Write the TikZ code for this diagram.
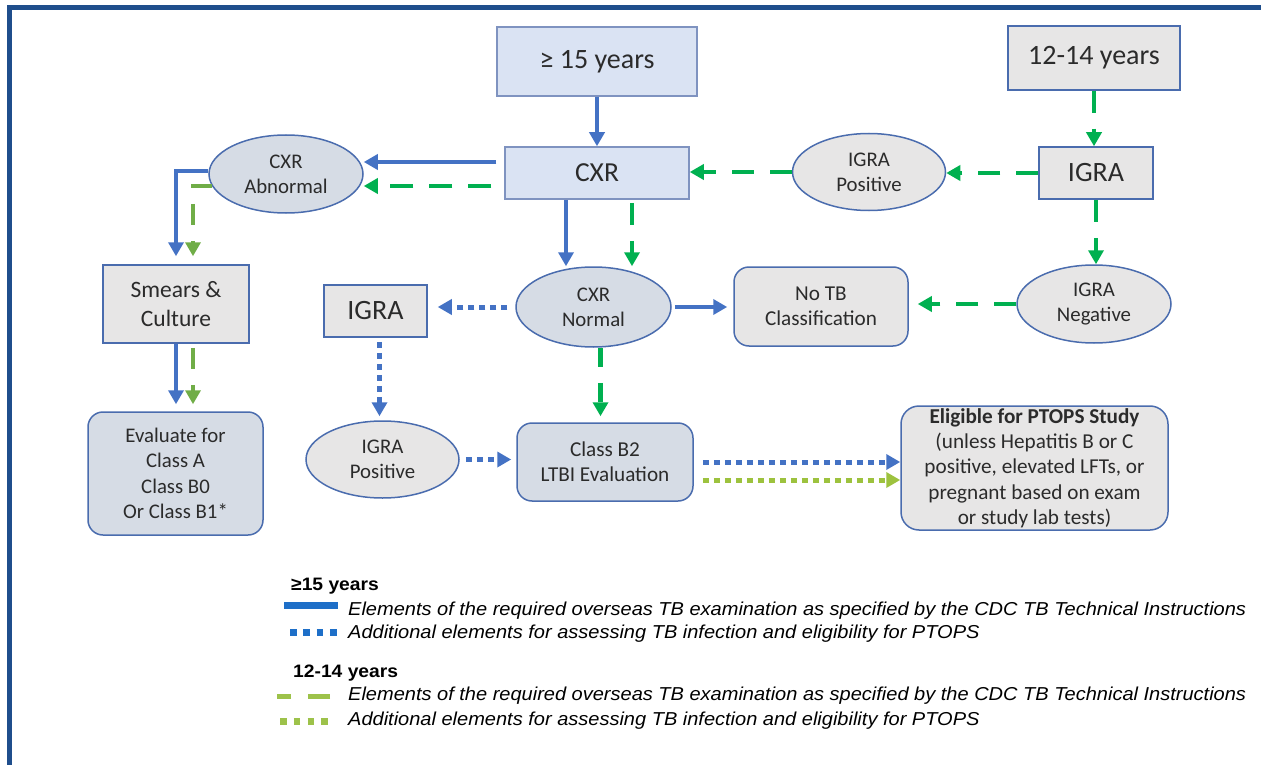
\documentclass[tikz,border=0pt]{standalone}
\usepackage{fontspec}
\setmainfont{Carlito}
\newfontfamily\legendfont[FakeStretch=1.07]{Liberation Sans}
\usetikzlibrary{shapes.geometric,arrows.meta}

\definecolor{frameblue}{HTML}{1F4E8C}
\definecolor{arrowblue}{HTML}{4472C4}
\definecolor{arrowgreen}{HTML}{00B050}
\definecolor{olivegreen}{HTML}{70AD47}
\definecolor{limegreen}{HTML}{9DC23E}
\definecolor{lightblue}{HTML}{DAE3F3}
\definecolor{slatefill}{HTML}{D6DCE5}
\definecolor{grayfill}{HTML}{E7E6E6}
\definecolor{edgeblue}{HTML}{4A6CAE}
\definecolor{softedge}{HTML}{7F93C0}
\definecolor{textgray}{HTML}{2B2B2B}
\definecolor{legendblue}{HTML}{1E6FC8}
\definecolor{legendgreen}{HTML}{9DC24A}

\tikzset{
  nodebase/.style={draw=edgeblue, line width=1.5pt, inner sep=0pt, text=textgray, align=center},
  bigbox/.style={nodebase, font=\fontsize{28}{32}\selectfont},
  oval/.style={nodebase, ellipse, font=\fontsize{20.8}{25}\selectfont},
  roundbox/.style={nodebase, rounded corners=15pt, font=\fontsize{21.2}{25.3}\selectfont},
  bighead/.style={-{Triangle[length=14pt,width=15pt]}},
  bluesolid/.style={draw=arrowblue, line width=4.5pt, bighead},
  greendash/.style={draw=arrowgreen, line width=4.5pt, dash pattern=on 22pt off 16pt, bighead},
  olivedash/.style={draw=olivegreen, line width=4.5pt, dash pattern=on 21pt off 16pt, bighead},
  bluedot/.style={draw=arrowblue, line width=5pt, dash pattern=on 6pt off 5pt, bighead},
  limedot/.style={draw=limegreen, line width=5pt, dash pattern=on 6pt off 5pt, bighead},
  legendtext/.style={anchor=base west, inner sep=0pt, font={\legendfont\fontsize{18.7}{22}\selectfont\itshape}},
  legendhead/.style={anchor=base west, inner sep=0pt, font={\legendfont\fontsize{18}{22}\selectfont\bfseries}},
}

\begin{document}
\begin{tikzpicture}[x=1pt,y=-1pt]
\useasboundingbox (0,0) rectangle (1261,765);

% outer frame
\draw[frameblue, line width=5pt] (9,780) -- (9,8) -- (1280,8);

% boxes
\node[bigbox, draw=softedge, fill=lightblue, minimum width=200pt, minimum height=69pt] (age15) at (597,61.5) {≥ 15 years};
\node[bigbox, draw=softedge, fill=lightblue, minimum width=184pt, minimum height=52pt, font=\fontsize{27.5}{30}\selectfont] (cxr) at (597,173) {CXR};
\node[bigbox, fill=grayfill, minimum width=172pt, minimum height=64pt] (age12) at (1094,58) {12-14 years};
\node[bigbox, fill=grayfill, minimum width=114pt, minimum height=52pt] (igraR) at (1096,173) {IGRA};
\node[oval, fill=grayfill, minimum width=153pt, minimum height=77pt] (igraPosR) at (869,172) {IGRA\\Positive};
\node[oval, fill=slatefill, minimum width=154pt, minimum height=78pt] (cxrAbn) at (286,174) {CXR\\Abnormal};
\node[bigbox, fill=grayfill, minimum width=146pt, minimum height=78pt, font=\fontsize{23.5}{29}\selectfont] (smears) at (176,304) {Smears \&\\Culture};
\node[bigbox, fill=grayfill, minimum width=103pt, minimum height=52pt] (igraL) at (375.5,311) {IGRA};
\node[roundbox, fill=slatefill, minimum width=175pt, minimum height=123pt, font=\fontsize{20.8}{25.3}\selectfont] (evaluate) at (175.5,473.5) {Evaluate for\\Class A\\Class B0\\Or Class B1*};
\node[oval, fill=grayfill, minimum width=153pt, minimum height=77pt] (igraPosL) at (382.5,459.5) {IGRA\\Positive};
\node[oval, fill=slatefill, minimum width=155pt, minimum height=80pt] (cxrNorm) at (593.5,307) {CXR\\Normal};
\node[roundbox, fill=grayfill, minimum width=174pt, minimum height=79pt] (noTB) at (821,306.5) {No TB\\Classification};
\node[oval, fill=grayfill, minimum width=154pt, minimum height=78pt] (igraNeg) at (1094,304) {IGRA\\Negative};
\node[roundbox, fill=slatefill, minimum width=176pt, minimum height=78pt] (classB2) at (605,462) {Class B2\\LTBI Evaluation};
\node[roundbox, rounded corners=18pt, fill=grayfill, minimum width=267pt, minimum height=124pt] (eligible) at (1034.5,468)
  {\textbf{Eligible for PTOPS Study}\\(unless Hepatitis B or C\\positive, elevated LFTs, or\\pregnant based on exam\\or study lab tests)};

% connectors: top row
\draw[bluesolid] (age15.south) -- (age15.south |- cxr.north);
\draw[greendash] (age12.south) -- (age12.south |- igraR.north);
\draw[greendash] (igraR.west) -- (igraR.west -| igraPosR.east);
\draw[greendash] (igraPosR.west) -- (igraPosR.west -| cxr.east);

\coordinate (c1) at ([xshift=-8pt,yshift=11pt]cxr.west);
\draw[bluesolid] (c1) -- (c1 -| cxrAbn.east);
\coordinate (c2) at ([xshift=-13pt,yshift=-13pt]cxr.west);
\draw[greendash, dash pattern=on 23pt off 16pt] (c2) -- (c2 -| cxrAbn.east);

% left column
\draw[bluesolid, shorten >=8pt] ([yshift=3pt]cxrAbn.west) -| (smears.north);
\draw[olivedash, shorten >=8pt] ([xshift=4pt,yshift=-12pt]cxrAbn.west) -| ([xshift=17pt]smears.north);
\draw[bluesolid, shorten >=7pt] (smears.south) -- (smears.south |- evaluate.north);
\coordinate (s2) at ([xshift=17pt]smears.south);
\draw[olivedash, shorten <=4pt, shorten >=7pt] (s2) -- (s2 |- evaluate.north);

% middle
\coordinate (n1) at ([xshift=-31pt]cxr.south);
\draw[bluesolid] (n1) -- (n1 |- cxrNorm.north);
\coordinate (n2) at ([xshift=35pt]cxr.south);
\draw[greendash, shorten <=3pt] (n2) -- (n2 |- cxrNorm.north);

\draw[bluedot, shorten <=8pt, shorten >=10pt] (cxrNorm.west) -- (cxrNorm.west -| igraL.east);
\draw[bluesolid, shorten <=3pt, shorten >=6pt] (cxrNorm.east) -- (cxrNorm.east -| noTB.west);
\draw[greendash, shorten >=9pt] (igraNeg.west) -- (igraNeg.west -| noTB.east);
\draw[greendash] (igraR.south) -- (igraR.south |- igraNeg.north);

\coordinate (n3) at ([xshift=7pt]cxrNorm.south);
\draw[greendash, dash pattern=on 19pt off 16pt, shorten >=6pt] (n3) -- (n3 |- classB2.north);

\coordinate (i1) at ([xshift=4pt]igraL.south);
\draw[bluedot, shorten <=4pt, shorten >=4pt] (i1) -- (i1 |- igraPosL.north);
\draw[bluedot, shorten <=6pt, shorten >=5pt] (igraPosL.east) -- (igraPosL.east -| classB2.west);

\draw[bluedot, shorten <=9pt] (classB2.east) -- (classB2.east -| eligible.west);
\coordinate (e2) at ([yshift=-18pt]classB2.east);
\draw[limedot, shorten <=9pt] (e2) -- (e2 -| eligible.west);

% legend
\node[legendhead] (lgHeadA) at (291,590) {≥15 years};
\draw[legendblue, line width=7pt] (284,605.5) -- (338,605.5);
\node[legendtext] (lgA1) at (348,615) {Elements of the required overseas TB examination as specified by the CDC TB Technical Instructions};
\draw[legendblue, line width=7pt, dash pattern=on 6.7pt off 6.6pt] (290,632) -- (337,632);
\node[legendtext] (lgA2) at (348,638) {Additional elements for assessing TB infection and eligibility for PTOPS};

\node[legendhead] (lgHeadB) at (293,677) {12-14 years};
\draw[legendgreen, line width=5pt, dash pattern=on 22pt off 17pt] (330,696.5) -- (276.7,696.5);
\node[legendtext] (lgB1) at (348,700) {Elements of the required overseas TB examination as specified by the CDC TB Technical Instructions};
\draw[legendgreen, line width=6.5pt, dash pattern=on 6.5pt off 7.3pt] (280,721.5) -- (328,721.5);
\node[legendtext] (lgB2) at (348,725) {Additional elements for assessing TB infection and eligibility for PTOPS};
\end{tikzpicture}
\end{document}
